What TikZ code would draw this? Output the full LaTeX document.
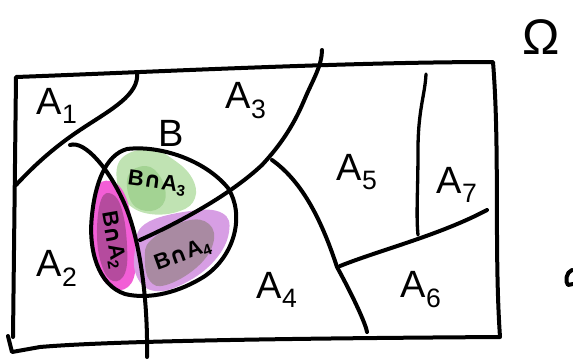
\documentclass[tikz,border=0pt]{standalone}
\usepackage{fontspec}
\setmainfont{Liberation Sans}
\newfontfamily\symfont{DejaVu Sans}
\begin{document}
\begin{tikzpicture}[x=1pt,y=-1pt,
  ink/.style={line width=4pt,line cap=round,line join=round,black},
  thin ink/.style={line width=3.3pt,line cap=round,line join=round,black},
  lbl/.style={font=\fontsize{38}{38}\selectfont,inner sep=0pt},
  ilbl/.style={font=\fontsize{22}{22}\selectfont\bfseries,inner sep=0pt}]
\useasboundingbox (0,0) rectangle (573,360);
\definecolor{gOut}{HTML}{C0E3B3}
\definecolor{gIn}{HTML}{A3D393}
\definecolor{mOut}{HTML}{F25ED6}
\definecolor{mIn}{HTML}{B54B9E}
\definecolor{pOut}{HTML}{D79EE4}
\definecolor{pIn}{HTML}{A98AA2}
% blobs
\fill[gOut] plot[smooth cycle,tension=0.7] coordinates {(122,158) (150,149) (174,160) (192,178) (195,198) (180,211) (150,214) (127,203) (117,182)};
\fill[gIn] plot[smooth cycle,tension=0.7] coordinates {(128,176) (146,166) (161,178) (165,200) (151,211) (132,203)};
\fill[mOut] plot[smooth cycle,tension=0.7] coordinates {(96,190) (110,181) (125,195) (133,230) (136,265) (128,287) (110,287) (96,265) (91,230)};
\fill[mIn] plot[smooth cycle,tension=0.7] coordinates {(101,200) (112,194) (122,210) (127,245) (125,273) (113,281) (102,266) (97,235)};
\fill[pOut] plot[smooth cycle,tension=0.7] coordinates {(145,224) (190,211) (222,213) (229,232) (215,260) (185,283) (155,291) (137,277) (135,250)};
\fill[pIn] plot[smooth cycle,tension=0.7] coordinates {(151,240) (186,221) (209,224) (213,244) (196,268) (166,285) (150,281) (145,260)};
% frame
\draw[ink] (13,337) -- (16,77) .. controls (150,72) and (350,62) .. (493,62)
  .. controls (500,150) and (494,250) .. (500,337)
  .. controls (350,338) and (120,340) .. (40,347) -- (12,352) -- (8,336);
% A1 boundary
\draw[ink] (137,72) .. controls (140,95) and (110,110) .. (80,130) .. controls (50,150) and (30,170) .. (16,185);
% A2 / A3 boundary
\draw[ink] (70,145) .. controls (85,140) and (110,170) .. (125,205)
  .. controls (140,240) and (148,300) .. (147,357);
% A3 / A4 boundary
\draw[ink] (140,240) .. controls (180,222) and (230,195) .. (262,165)
  .. controls (290,135) and (300,110) .. (306,96) .. controls (313,80) and (322,65) .. (322,50);
% A4 / A5 boundary
\draw[ink] (272,160) .. controls (300,180) and (320,215) .. (337,267)
  .. controls (355,300) and (366,325) .. (367,332);
% A5 / A6 boundary
\draw[ink] (340,266) .. controls (380,250) and (440,235) .. (487,210);
% A5 / A7 boundary
\draw[thin ink] (426,74) .. controls (425,95) and (418,110) .. (418,150) .. controls (418,190) and (416,215) .. (418,235);
% B
\draw[ink] (127,149) .. controls (160,145) and (205,160) .. (228,188)
  .. controls (245,215) and (235,255) .. (205,276)
  .. controls (180,292) and (150,300) .. (125,294)
  .. controls (98,285) and (88,250) .. (92,215)
  .. controls (95,185) and (105,155) .. (127,149) -- cycle;
% partial glyph at right edge
\draw[ink] (572,270) .. controls (566,272) and (565,282) .. (568,285) -- (573,284);
% labels
\node[lbl] (a1) at (57,106) {A\textsubscript{1}};
\node[lbl] (a2) at (57,268) {A\textsubscript{2}};
\node[lbl] (a3) at (246,101) {A\textsubscript{3}};
\node[lbl] (a4) at (277,290) {A\textsubscript{4}};
\node[lbl] (a5) at (357,172) {A\textsubscript{5}};
\node[lbl] (a6) at (421,290) {A\textsubscript{6}};
\node[lbl] (a7) at (457,185) {A\textsubscript{7}};
\node[lbl] (b) at (171,133) {B};
\node[font=\fontsize{50}{50}\selectfont,inner sep=0pt] (om) at (541,37) {Ω};
\node[ilbl,rotate=-8] (ba3) at (157,183) {B{\symfont∩}A\textsubscript{3}};
\node[ilbl,rotate=-80] (ba2) at (113,240) {B{\symfont∩}A\textsubscript{2}};
\node[ilbl,rotate=20] (ba4) at (183,255) {B{\symfont∩}A\textsubscript{4}};
\end{tikzpicture}
\end{document}
